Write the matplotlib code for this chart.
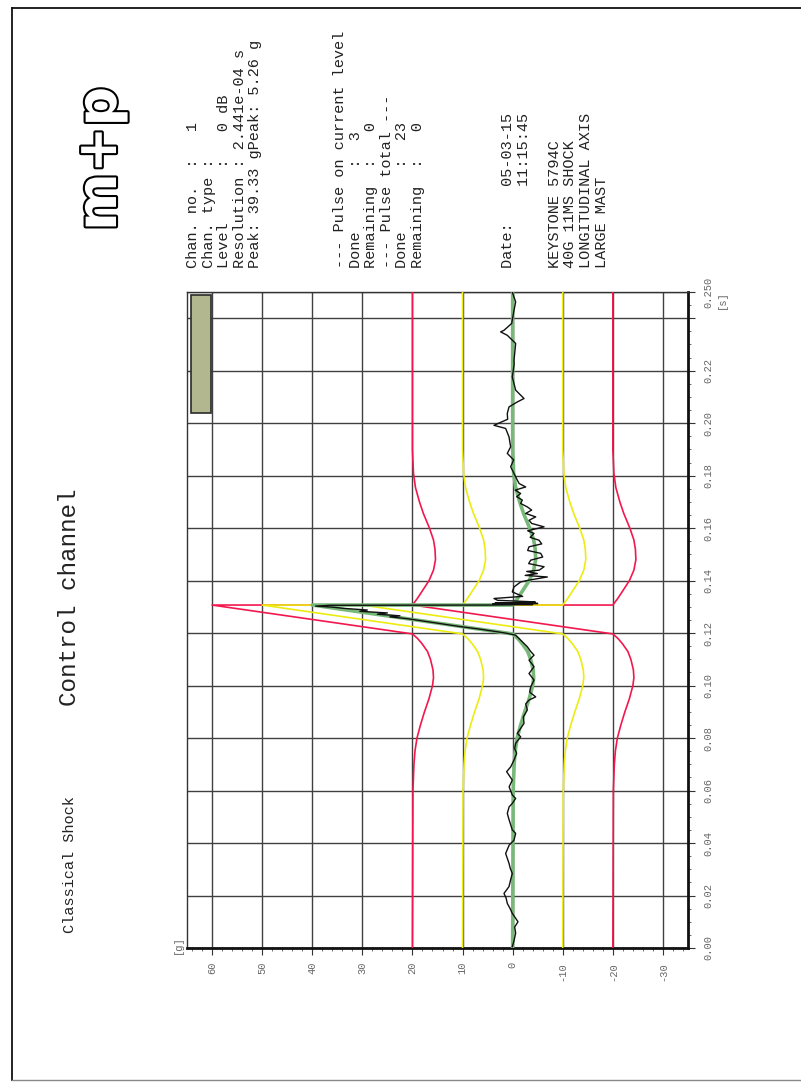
import matplotlib
matplotlib.use('Agg')
import matplotlib.pyplot as plt
import numpy as np
from matplotlib.patches import Rectangle
from matplotlib.lines import Line2D
import matplotlib.patheffects as pe
from matplotlib.ticker import MultipleLocator

# ---------------- data ----------------
# reference pulse (terminal-peak sawtooth with pre/post compensation), time [s] / accel [g]
ref_t = [0.000, 0.060, 0.070, 0.075, 0.080, 0.085, 0.090, 0.095, 0.100, 0.103, 0.106,
         0.110, 0.113, 0.116, 0.118, 0.1197, 0.1307, 0.1307, 0.133, 0.135, 0.140,
         0.144, 0.148, 0.152, 0.1555, 0.160, 0.1655, 0.170, 0.1755, 0.181, 0.190, 0.250]
ref_g = [0.0, -0.1, -0.3, -0.5, -0.9, -1.6, -2.4, -3.3, -4.0, -4.2, -4.1,
         -3.6, -3.0, -1.9, -1.0, 0.0, 40.0, 0.0, -0.9, -1.6, -3.3,
         -4.2, -4.6, -4.5, -4.2, -3.4, -2.2, -1.4, -0.6, -0.2, 0.0, 0.0]

alarm_limit = 10.0   # yellow
abort_limit = 20.0   # red

# measured control signal
meas_t = [0.0005, 0.0030, 0.0057, 0.0080, 0.0100, 0.0132, 0.0150, 0.0170, 0.0190, 0.0208,
          0.0234, 0.0260, 0.0284, 0.0305, 0.0323, 0.0360, 0.0392, 0.0411, 0.0437, 0.0450,
          0.0488, 0.0513, 0.0538, 0.0551, 0.0570, 0.0583, 0.0614, 0.0640, 0.0672, 0.0690,
          0.0716, 0.0742, 0.0760, 0.0780, 0.0805, 0.0818, 0.0856, 0.0881, 0.0907, 0.0930,
          0.0945, 0.0957, 0.0975, 0.0995, 0.1021, 0.1046, 0.1072, 0.1097, 0.1116, 0.1130,
          0.1148, 0.1173, 0.1192, 0.1199,
          0.1205, 0.1215, 0.1225, 0.1235, 0.1245, 0.1255, 0.1262, 0.1266, 0.1272, 0.1277,
          0.1283, 0.1288, 0.1294, 0.1299, 0.1303, 0.1306, 0.1307, 0.1309, 0.1311, 0.1313,
          0.1315, 0.1317, 0.1319, 0.1325, 0.1332, 0.1340, 0.1357, 0.1376, 0.1395, 0.1402,
          0.1414, 0.1420, 0.1427, 0.1435, 0.1440, 0.1453, 0.1465, 0.1478, 0.1490, 0.1504,
          0.1515, 0.1529, 0.1540, 0.1554, 0.1565, 0.1580, 0.1590, 0.1605, 0.1618, 0.1630,
          0.1643, 0.1656, 0.1669, 0.1681, 0.1694, 0.1707, 0.1720, 0.1732, 0.1745, 0.1757,
          0.1770, 0.1783, 0.1808, 0.1834, 0.1860, 0.1885, 0.1910, 0.1948, 0.1980, 0.1992,
          0.2015, 0.2037, 0.2062, 0.2081, 0.2094, 0.2126, 0.2176, 0.2224, 0.2240, 0.2304,
          0.2335, 0.2348, 0.2354, 0.2380, 0.2430, 0.2462, 0.2500]
meas_g = [0.07, -0.3, -0.6, -0.4, -1.07, 0.07, 0.5, 1.07, 1.3, 1.73,
          0.73, 0.4, 0.07, 0.5, 0.73, 1.4, 0.7, -0.27, -0.6, 0.07,
          0.7, 1.07, 0.7, 0.07, -0.6, 0.07, 0.7, 0.07, 1.2, 0.4,
          -0.27, -0.8, -0.4, -0.6, -1.6, -0.93, -2.27, -2.13, -2.93, -2.6,
          -3.27, -4.6, -3.4, -3.6, -4.27, -3.27, -4.27, -3.27, -4.27, -3.6,
          -2.93, -1.6, -0.6, 1.07,
          3.0, 6.5, 10.5, 14.0, 17.5, 21.0, 24.5, 22.5, 27.0, 25.0,
          30.5, 29.0, 33.5, 36.0, 39.33, 36.5, 4.5, -4.0, 4.0, -5.0,
          3.5, -4.5, -4.5, 3.0, 3.73, -2.0, 0.07, -0.27, -1.6, -3.27,
          -6.93, -2.5, -4.93, -2.8, -5.3, -6.27, -3.2, -3.6, -6.0, -5.6,
          -3.0, -3.27, -5.8, -5.27, -3.5, -4.27, -3.0, -6.27, -3.8, -3.27,
          -4.6, -2.6, -3.8, -2.93, -1.6, -1.93, -0.8, -1.6, -0.5, -2.6,
          -1.3, -0.93, -0.27, 0.4, -0.2, 1.07, 0.4, 0.73, 1.4, 3.73,
          1.0, 1.07, 0.73, -0.93, -2.27, -0.6, 0.07, -0.3, -0.27, -0.6,
          1.07, 2.4, 1.73, 0.2, -0.27, -0.6, 0.07]

g_ticks = [60, 50, 40, 30, 20, 10, 0, -10, -20, -30]
g_tick_labels = ['60', '50', '40', '30', '20', '10', '0', '-10', '-20', '-30']
t_ticks = [0.00, 0.02, 0.04, 0.06, 0.08, 0.10, 0.12, 0.14, 0.16, 0.18, 0.20, 0.22, 0.24, 0.25]
t_tick_labels = ['0.00', '0.02', '0.04', '0.06', '0.08', '0.10', '0.12', '0.14', '0.16',
                 '0.18', '0.20', '0.22', '', '0.250']

info_block1 = ['Chan. no.  :   1',
               'Chan. type :',
               'Level      :   0 dB',
               'Resolution : 2.441e-04 s',
               'Peak: 39.33 gPeak: 5.26 g']
info_block2 = ['--- Pulse on current level',
               'Done       :  3',
               'Remaining  :   0',
               '--- Pulse total ---',
               'Done       :  23',
               'Remaining  :   0']
info_block3 = ['Date:    05-03-15',
               '         11:15:45',
               '',
               'KEYSTONE 5794C',
               '40G 11MS SHOCK',
               'LONGITUDINAL AXIS',
               'LARGE MAST']

# ---------------- figure ----------------
W, H = 801, 1086
fig = plt.figure(figsize=(W / 100, H / 100), dpi=100)
MONO = ['Liberation Mono', 'DejaVu Sans Mono']

def fx(px):
    return px / W

def fy(py):
    return 1 - py / H

ax = fig.add_axes([fx(187), fy(948), (688 - 187) / W, (948 - 292) / H])

rt = np.array(ref_t)
rg = np.array(ref_g)
RED = '#f2184e'
YEL = '#ecec10'

ax.plot(rg + abort_limit, rt, color=RED, lw=1.2, zorder=3)
ax.plot(rg - abort_limit, rt, color=RED, lw=1.2, zorder=3)
ax.plot(rg + alarm_limit, rt, color=YEL, lw=1.2, zorder=3)
ax.plot(rg - alarm_limit, rt, color=YEL, lw=1.2, zorder=3)
ax.plot(rg, rt, color='#78b878', lw=2.6, zorder=4)
ax.plot(meas_g, meas_t, color='#111111', lw=1.0, zorder=5)

ax.set_xlim(65, -35)
ax.set_ylim(0, 0.25)

ax.set_xticks(g_ticks)
ax.set_xticklabels(g_tick_labels)
ax.yaxis.tick_right()
ax.set_yticks(t_ticks)
ax.set_yticklabels(t_tick_labels)
ax.xaxis.set_minor_locator(MultipleLocator(2))
ax.yaxis.set_minor_locator(MultipleLocator(0.005))

ax.grid(True, which='major', color='#404040', lw=1.0, zorder=1)
ax.tick_params(which='major', direction='out', length=5, width=0.8, color='#333333')
ax.tick_params(which='minor', direction='out', length=2.5, width=0.6, color='#555555')
for lab in ax.get_xticklabels():
    lab.set_rotation(90)
    lab.set_family(MONO)
    lab.set_fontsize(7.5)
    lab.set_color('#666666')
    lab.set_va('top')
    lab.set_ha('center')
for lab in ax.get_yticklabels():
    lab.set_rotation(90)
    lab.set_family(MONO)
    lab.set_fontsize(7.5)
    lab.set_color('#666666')
    lab.set_va('center')
    lab.set_ha('left')
ax.tick_params(axis='x', pad=5)
ax.tick_params(axis='y', pad=6)

for side in ['top', 'left']:
    ax.spines[side].set_linewidth(1.0)
    ax.spines[side].set_color('#333333')
for side in ['bottom', 'right']:
    ax.spines[side].set_linewidth(2.0)
    ax.spines[side].set_color('#111111')

# small legend box in the corner
ax.add_patch(Rectangle((0.008, 0.8155), 0.04, 0.18, transform=ax.transAxes,
                       facecolor='#b3b78f', edgecolor='#2a2a2a', lw=1.2, zorder=6))

# unit labels
fig.text(fx(178), fy(945), '[g]', rotation=90, ha='center', va='center',
         family=MONO, fontsize=7.5, color='#666666')
fig.text(fx(722), fy(300), '[s]', rotation=90, ha='center', va='center',
         family=MONO, fontsize=7.5, color='#666666')

# titles
fig.text(fx(70), fy(597), 'Control channel', rotation=90, ha='center', va='center',
         family=MONO, fontsize=17.5, color='#222222')
fig.text(fx(70), fy(865), 'Classical Shock', rotation=90, ha='center', va='center',
         family=MONO, fontsize=11, color='#222222')

# info blocks
def block(lines, x0, step=15.6, y0=268):
    for i, s in enumerate(lines):
        if s:
            fig.text(fx(x0 + i * step), fy(y0), s, rotation=90, ha='center', va='bottom',
                     family=MONO, fontsize=11, color='#222222')

block(info_block1, 193)
block(info_block2, 340)
block(info_block3, 508)

# logo
fig.text(fx(101), fy(159), 'm+p', rotation=90, ha='center', va='center',
         fontsize=40, fontweight='bold', color='white', family='DejaVu Sans',
         path_effects=[pe.withStroke(linewidth=3.0, foreground='black')])

# page frame
fig.add_artist(Line2D([fx(12), fx(12)], [fy(8), fy(1080)], color='#111111', lw=1.3))
fig.add_artist(Line2D([fx(12), fx(801)], [fy(8), fy(8)], color='#111111', lw=1.3))
fig.add_artist(Line2D([fx(12), fx(801)], [fy(1080), fy(1080)], color='#888888', lw=1.0))

fig.savefig('out.png', dpi=100)
